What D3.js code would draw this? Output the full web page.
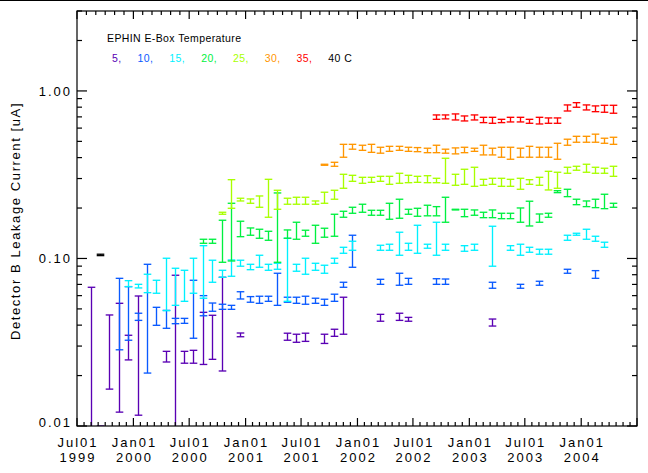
<!DOCTYPE html>
<html><head><meta charset="utf-8">
<script src="https://cdn.jsdelivr.net/npm/d3@7"></script>
<style>
body{margin:0;background:#fff}
svg{display:block}
text{font-family:"Liberation Sans",Arial,sans-serif;}
</style>
</head><body>
<svg id="c" width="648" height="473"></svg>
<script>
// ---------- data ----------
const months = ["1999-08","1999-09","1999-10","1999-11","1999-12",
 "2000-01","2000-02","2000-03","2000-04","2000-05","2000-06","2000-07","2000-08","2000-09","2000-10","2000-11","2000-12",
 "2001-01","2001-02","2001-03","2001-04","2001-05","2001-06","2001-07","2001-08","2001-09","2001-10","2001-11","2001-12",
 "2002-01","2002-02","2002-03","2002-04","2002-05","2002-06","2002-07","2002-08","2002-09","2002-10","2002-11","2002-12",
 "2003-01","2003-02","2003-03","2003-04","2003-05","2003-06","2003-07","2003-08","2003-09","2003-10","2003-11","2003-12",
 "2004-01","2004-02","2004-03","2004-04"];

const legendLabels = ["5,","10,","15,","20,","25,","30,","35,","40 C"];
const seriesColors = ["#5a00b4","#0a5aff","#00f0ff","#00f040","#a8ff00","#ff9600","#ff0000","#000000"];

// 5 C
const t05_k  = [0,1,2,3,4,5,8,9,10,11,12,13,14,16,21,22,23,25,26,27,31,33,34,43];
const t05_hi = [.0673,.0100,.046,.054,.0348,.0597,.0279,.0794,.0279,.0283,.0477,.0458,.0772,.0359,.0358,.0353,.0358,.0353,.0378,.0587,.0464,.0471,.0445,.0435];
const t05_lo = [.008,.009,.0166,.0121,.0248,.0116,.0241,.008,.0237,.0237,.0233,.025,.0213,.0341,.0325,.0316,.032,.0311,.0343,.0353,.0422,.0427,.0422,.0395];
// 10 C
const t10_k  = [3,4,5,6,7,8,9,10,11,12,13,14,15,16,17,18,19,20,21,22,23,24,25,26,27,28,31,33,34,37,38,43,46,48,51,54];
const t10_hi = [.0761,.0679,.0471,.0923,.0511,.049,.0439,.0439,.0741,.060,.0542,.0533,.0525,.0633,.0592,.0595,.0595,.0816,.0587,.0587,.0595,.0579,.0571,.0612,.0721,.1376,.0751,.0816,.0761,.0757,.0754,.0721,.0701,.0731,.0862,.0846];
const t10_lo = [.0285,.0325,.0427,.0207,.0399,.0383,.0408,.041,.0334,.0455,.0484,.0497,.0497,.0573,.0548,.054,.0555,.0525,.0548,.054,.0533,.054,.0525,.0555,.0673,.0886,.0701,.0692,.0701,.0701,.0701,.0664,.0664,.0692,.0816,.0761];
// 15 C
const t15_k  = [4,5,6,7,8,9,10,11,12,13,14,15,16,17,18,19,20,21,22,23,24,25,26,27,28,31,32,33,34,35,36,37,38,40,41,43,45,46,47,48,49,51,52,53,54,55];
const t15_hi = [.0737,.0701,.0805,.0741,.1003,.0874,.085,.1003,.1192,.0976,.085,.0979,.0976,.0923,.1045,.0923,.0936,.132,.0923,.1003,.0936,.0911,.1003,.1166,.1267,.1199,.1216,.1434,.1232,.1578,.1216,.1645,.1216,.1192,.1216,.1557,.1192,.1216,.1166,.1135,.1135,.1376,.1414,.1494,.1357,.125];
const t15_lo = [.0679,.0667,.0625,.062,.0488,.0525,.0555,.062,.0579,.0721,.0772,.0783,.0899,.0857,.0886,.085,.0862,.0555,.0839,.0805,.085,.0816,.0936,.1074,.1119,.1119,.1119,.1045,.1119,.1074,.1151,.1045,.1119,.1104,.1119,.0899,.1119,.1045,.1089,.106,.106,.1284,.1376,.1302,.1267,.1166];
// 20 C
const t20_k  = [12,13,14,15,16,17,18,19,20,21,22,23,24,25,26,27,28,29,30,31,32,33,34,35,36,37,38,39,40,41,42,43,44,45,46,47,48,49,50,51,52,53,54,55,56];
const t20_hi = [.1302,.1302,.1691,.2135,.1668,.1521,.1494,.1453,.2461,.148,.1645,.1474,.1578,.1515,.1836,.1913,.2021,.2107,.1939,.1939,.2135,.2257,.1966,.1993,.2078,.2039,.2319,.1966,.1966,.1948,.1887,.1948,.1861,.1861,.2002,.2196,.1843,.1861,.2538,.2588,.2257,.2204,.2257,.2417,.2135];
const t20_lo = [.1232,.1232,.0949,.0966,.1349,.1376,.132,.1284,.0949,.132,.1302,.1357,.1232,.1339,.1357,.1762,.1861,.1887,.1811,.1811,.1714,.1738,.1836,.1786,.1797,.1797,.1645,.1948,.1776,.1811,.1752,.1752,.1728,.1728,.1645,.1563,.1645,.1762,.2471,.2339,.2094,.2039,.2011,.1983,.2021];
// 25 C
const t25_k  = [14,15,16,17,18,19,20,21,22,23,24,25,26,27,28,29,30,31,32,33,34,35,36,37,38,39,40,41,42,43,44,45,46,47,48,49,50,51,52,53,54,55,56];
const t25_hi = [.1887,.2953,.2288,.2266,.2361,.2968,.2553,.2288,.2319,.2319,.2204,.2485,.2553,.318,.3136,.3051,.3051,.3093,.3093,.3224,.3136,.3093,.3119,.301,.3964,.318,.3407,.3502,.2968,.301,.301,.2968,.301,.2953,.3051,.3313,.327,.3502,.355,.365,.3502,.3456,.355];
const t25_lo = [.1836,.1993,.2204,.2135,.2021,.1762,.1966,.2107,.2107,.2107,.2107,.2135,.2257,.2624,.2888,.281,.2848,.2888,.2771,.281,.2833,.2848,.2833,.2833,.281,.2734,.2771,.2696,.2734,.2771,.2696,.2696,.2588,.2771,.2734,.2564,.2624,.3225,.3362,.327,.3225,.3225,.3093];
// 30 C
const t30_k  = [25,26,27,28,29,30,31,32,33,34,35,36,37,38,39,40,41,42,43,44,45,46,47,48,49,50,51,52,53,54,55,56];
const t30_hi = [.365,.375,.480,.480,.474,.480,.461,.467,.467,.461,.459,.455,.474,.449,.457,.461,.455,.474,.455,.461,.461,.455,.467,.461,.461,.487,.515,.536,.536,.552,.522,.529];
const t30_lo = [.360,.355,.402,.449,.442,.430,.425,.436,.442,.436,.434,.428,.428,.425,.421,.428,.436,.415,.415,.402,.391,.402,.402,.402,.402,.391,.474,.494,.494,.494,.487,.480];
// 35 C
const t35_k  = [37,38,39,40,41,42,43,44,45,46,47,48,49,50,51,52,53,54,55,56];
const t35_hi = [.719,.719,.729,.709,.719,.696,.696,.677,.696,.696,.677,.696,.690,.690,.825,.851,.825,.814,.821,.821];
const t35_lo = [.677,.681,.671,.662,.671,.647,.641,.647,.653,.653,.641,.635,.641,.641,.759,.799,.770,.752,.746,.736];
// 40 C
const t40_k  = [1];
const t40_hi = [.106];
const t40_lo = [.104];

const yTickValues = [0.01, 0.1, 1];
const yTickLabels = ["0.01", "0.10", "1.00"];
const xTickDates = ["1999-07-01","2000-01-01","2000-07-01","2001-01-01","2001-07-01","2002-01-01","2002-07-01","2003-01-01","2003-07-01","2004-01-01","2004-07-01"];
const xTickLabels = [["Jul01","1999"],["Jan01","2000"],["Jul01","2000"],["Jan01","2001"],["Jul01","2001"],["Jan01","2002"],["Jul01","2002"],["Jan01","2003"],["Jul01","2003"],["Jan01","2004"],null];

const titleText = "EPHIN E-Box Temperature";
const yTitle = "Detector B Leakage Current [uA]";

// ---------- build ----------
const series = [
  [t05_k,t05_hi,t05_lo],[t10_k,t10_hi,t10_lo],[t15_k,t15_hi,t15_lo],[t20_k,t20_hi,t20_lo],
  [t25_k,t25_hi,t25_lo],[t30_k,t30_hi,t30_lo],[t35_k,t35_hi,t35_lo],[t40_k,t40_hi,t40_lo]
].map((s,i)=>({color:seriesColors[i], pts:s[0].map((k,j)=>({m:months[k],hi:s[1][j],lo:s[2][j]}))}));

const parseDate = s => { const p=s.split("-").map(Number); return new Date(Date.UTC(p[0],p[1]-1,p[2]||15)); };

const L=77, R=637, T=11, B=426;
const svg = d3.select("#c");
svg.append("rect").attr("width",648).attr("height",473).attr("fill","#fff");
svg.append("line").attr("x1",0).attr("x2",648).attr("y1",0.5).attr("y2",0.5).attr("stroke","#000").attr("stroke-width",1);

const x = d3.scaleUtc().domain([parseDate("1999-07-01"), parseDate("2004-07-01")]).range([L,R]);
const y = d3.scaleLog().domain([0.01,3]).range([B,T]);

svg.append("clipPath").attr("id","clip").append("rect").attr("x",L).attr("y",T).attr("width",R-L).attr("height",B-T);

// error bars
const capW = 3.8;
const gBars = svg.append("g").attr("clip-path","url(#clip)").attr("fill","none").attr("stroke-width",1.35);
series.forEach(s=>{
  const g = gBars.append("g").attr("stroke",s.color);
  s.pts.forEach(p=>{
    const cx = Math.round(x(parseDate(p.m)))+0.5;
    const yh = y(p.hi), yl = y(p.lo);
    g.append("line").attr("x1",cx).attr("x2",cx).attr("y1",yh).attr("y2",yl);
    g.append("line").attr("x1",cx-capW).attr("x2",cx+capW).attr("y1",yh).attr("y2",yh);
    g.append("line").attr("x1",cx-capW).attr("x2",cx+capW).attr("y1",yl).attr("y2",yl);
  });
});

// frame
const gAx = svg.append("g").attr("stroke","#000").attr("stroke-width",1.2).attr("fill","none");
gAx.append("rect").attr("x",L).attr("y",T).attr("width",R-L).attr("height",B-T);

// y ticks
const yMinor = [];
yTickValues.forEach(d=>{ for(let m=2;m<=9;m++){ const v=d*m; if(v<=3.0001) yMinor.push(v);} });
yTickValues.forEach(v=>{
  const yy=y(v);
  gAx.append("line").attr("x1",L).attr("x2",L+10).attr("y1",yy).attr("y2",yy);
  gAx.append("line").attr("x1",R).attr("x2",R-10).attr("y1",yy).attr("y2",yy);
});
yMinor.forEach(v=>{
  const yy=y(v);
  gAx.append("line").attr("x1",L).attr("x2",L+5).attr("y1",yy).attr("y2",yy);
  gAx.append("line").attr("x1",R).attr("x2",R-5).attr("y1",yy).attr("y2",yy);
});

// x ticks
const majors = xTickDates.map(parseDate);
majors.forEach((d,i)=>{
  const xx=x(d);
  gAx.append("line").attr("x1",xx).attr("x2",xx).attr("y1",B).attr("y2",B-8);
  gAx.append("line").attr("x1",xx).attr("x2",xx).attr("y1",T).attr("y2",T+8);
  if(i<majors.length-1){
    const x0=x(d), x1=x(majors[i+1]);
    for(let j=1;j<8;j++){ const xm=x0+(x1-x0)*j/8; gAx.append("line").attr("x1",xm).attr("x2",xm).attr("y1",B).attr("y2",B-4); }
    for(let j=1;j<6;j++){ const xm=x0+(x1-x0)*j/6; gAx.append("line").attr("x1",xm).attr("x2",xm).attr("y1",T).attr("y2",T+4); }
  }
});

// tick labels
const gLab = svg.append("g").attr("fill","#000").style("font-size","13px").style("letter-spacing","2px");
majors.forEach((d,i)=>{
  const lab = xTickLabels[i]; if(!lab) return;
  gLab.append("text").attr("x",x(d)+1).attr("y",447).attr("text-anchor","middle").text(lab[0]);
  gLab.append("text").attr("x",x(d)+1).attr("y",462).attr("text-anchor","middle").text(lab[1]);
});
yTickValues.forEach((v,i)=>{
  const yy = y(v) + (i===0 ? 0.5 : 5);
  gLab.append("text").attr("x",72).attr("y",yy).attr("text-anchor","end").text(yTickLabels[i]);
});

// y title
svg.append("text").attr("transform","translate(20,221) rotate(-90)").attr("text-anchor","middle")
  .style("font-size","13px").style("letter-spacing","1.6px").text(yTitle);

// legend
svg.append("text").attr("x",107).attr("y",42).style("font-size","10.5px").style("letter-spacing","0.4px").text(titleText);
let lx = 112;
legendLabels.forEach((t,i)=>{
  const tx = svg.append("text").attr("x",lx).attr("y",62).attr("fill",seriesColors[i])
    .style("font-size","10.5px").style("letter-spacing","0.4px").text(t);
  lx += tx.node().getComputedTextLength() + 16;
});
</script>
</body></html>
